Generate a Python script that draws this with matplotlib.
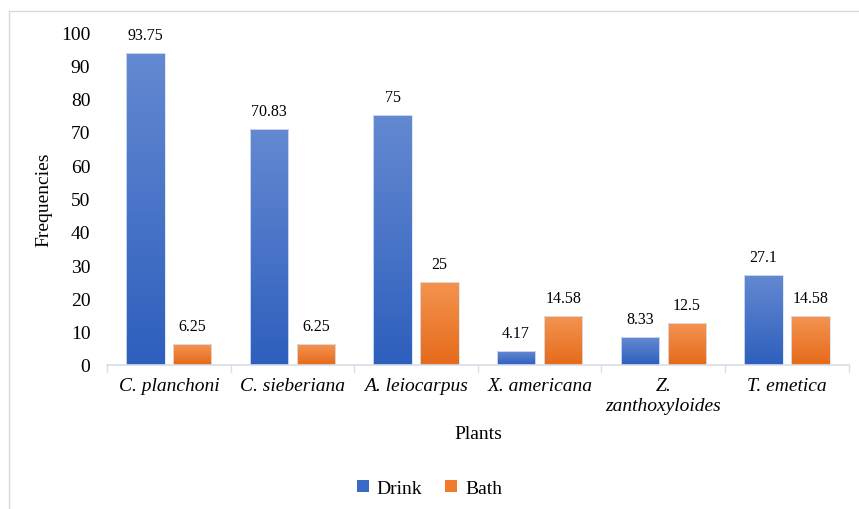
import numpy as np
import matplotlib.pyplot as plt
from matplotlib.colors import LinearSegmentedColormap
from matplotlib.lines import Line2D
from matplotlib.patches import Patch

plt.rcParams['font.family'] = ['Liberation Serif', 'DejaVu Serif']

# Данные
plants = ['C. planchoni', 'C. sieberiana', 'A. leiocarpus', 'X. americana',
          'Z.\nzanthoxyloides', 'T. emetica']
drink = [93.75, 70.83, 75, 4.17, 8.33, 27.1]
bath = [6.25, 6.25, 25, 14.58, 12.5, 14.58]
drink_labels = ['93.75', '70.83', '75', '4.17', '8.33', '27.1']
bath_labels = ['6.25', '6.25', '25', '14.58', '12.5', '14.58']

fig = plt.figure(figsize=(8.59, 5.10), dpi=100)
ax = fig.add_axes([0.1246, 0.2824, 0.8634, 0.6526])

x = np.arange(len(plants))
w = 0.31
off = 0.19

blue_cmap = LinearSegmentedColormap.from_list('b', ['#2e5fbd', '#6489d2'])
orange_cmap = LinearSegmentedColormap.from_list('o', ['#e56a1a', '#f49450'])
grad = np.linspace(0, 1, 256).reshape(-1, 1)


def grad_bars(xs, vals, cmap, labels):
    bars = ax.bar(xs, vals, w, color='none', edgecolor='#dbe3f3', linewidth=0.6, zorder=3)
    for b, lab in zip(bars, labels):
        x0, y0 = b.get_x(), b.get_y()
        im = ax.imshow(grad, extent=[x0, x0 + b.get_width(), y0, y0 + b.get_height()],
                       origin='lower', cmap=cmap, aspect='auto', zorder=2)
        im.set_clip_path(b)
        ax.text(x0 + b.get_width() / 2, b.get_height() + 3, lab,
                ha='center', va='bottom', fontsize=11.5)


grad_bars(x - off, drink, blue_cmap, drink_labels)
grad_bars(x + off, bath, orange_cmap, bath_labels)

ax.set_xlim(-0.5, len(plants) - 0.5)
ax.set_ylim(0, 100)
ax.set_yticks(np.arange(0, 101, 10))
ax.tick_params(axis='y', length=0, labelsize=14, pad=12)

ax.set_xticks(x)
ax.set_xticklabels(plants, fontsize=14, style='italic', va='top')
ax.tick_params(axis='x', length=0, pad=9)
for xi in np.arange(-0.5, len(plants), 1.0):
    ax.plot([xi, xi], [0, -2.2], color='#d9dde6', lw=1, clip_on=False, zorder=1)

for s in ['top', 'right', 'left']:
    ax.spines[s].set_visible(False)
ax.spines['bottom'].set_color('#d9dde6')
ax.spines['bottom'].set_linewidth(1.2)

ax.set_ylabel('Frequencies', fontsize=14, labelpad=6)
ax.set_xlabel('Plants', fontsize=14, labelpad=8)

handles = [Patch(facecolor='#3a6ac6'), Patch(facecolor='#ef7b2c')]
fig.legend(handles, ['Drink', 'Bath'], loc='center', bbox_to_anchor=(0.5, 0.04),
           ncol=2, frameon=False, fontsize=14, handlelength=0.6, handleheight=0.6,
           handletextpad=0.4, columnspacing=1.2)

# рамка
fig.add_artist(Line2D([9 / 859, 1], [1 - 12 / 510, 1 - 12 / 510], color='#d9d9d9', lw=1))
fig.add_artist(Line2D([9 / 859, 9 / 859], [0, 1 - 12 / 510], color='#d9d9d9', lw=1))

plt.savefig('out.png', dpi=100)
